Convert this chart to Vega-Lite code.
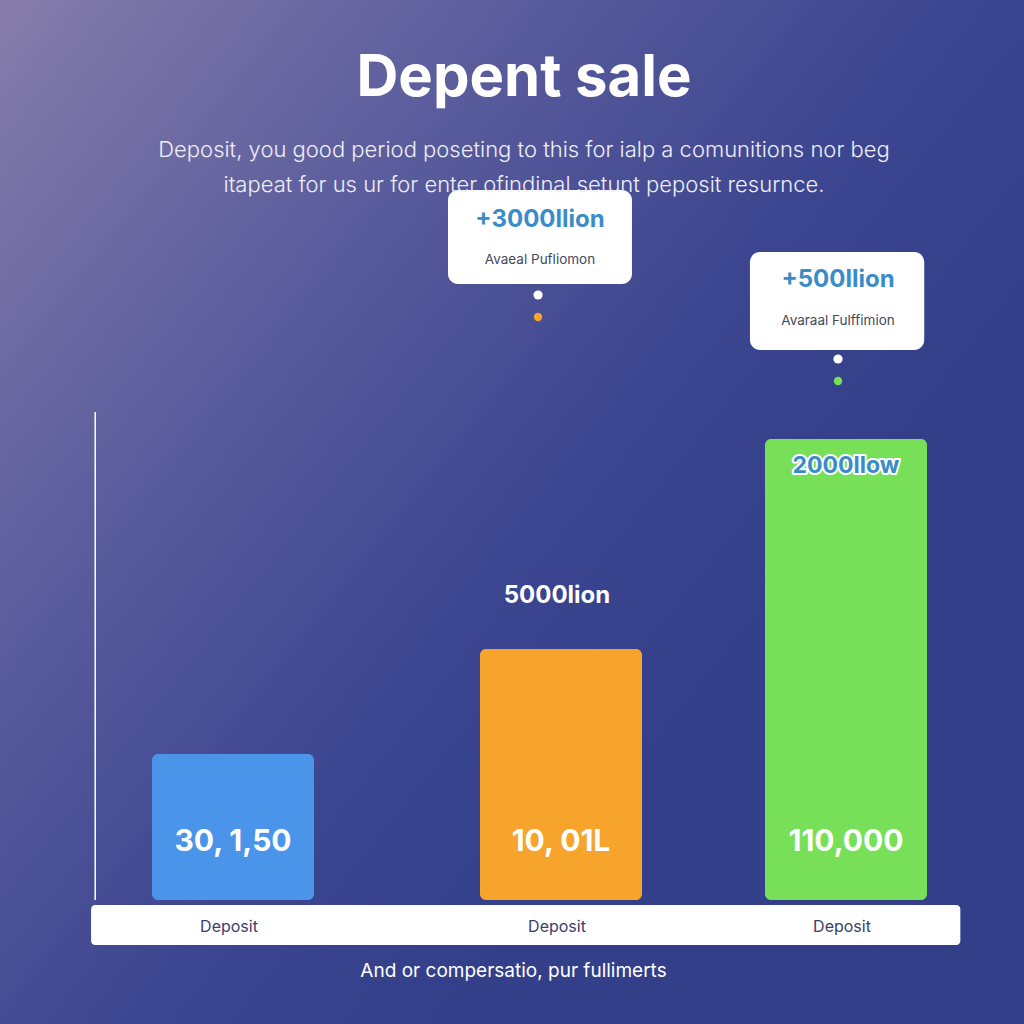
{
  "$schema": "https://vega.github.io/schema/vega-lite/v6.json",
  "width": 1024,
  "height": 1024,
  "padding": 0,
  "autosize": {"type": "none"},
  "background": "#3c4590",
  "view": {
    "stroke": null,
    "fill": {
      "gradient": "linear",
      "x1": 0, "y1": 0, "x2": 0.75, "y2": 0.6,
      "stops": [
        {"offset": 0, "color": "#867daa"},
        {"offset": 0.4, "color": "#5b5d9d"},
        {"offset": 0.75, "color": "#3d4690"},
        {"offset": 1, "color": "#333f89"}
      ]
    }
  },
  "title": {
    "text": "Depent sale",
    "subtitle": [
      "Deposit, you good period poseting to this for ialp a comunitions nor beg",
      "itapeat for us ur for enter ofindinal setunt peposit resurnce."
    ],
    "anchor": "middle",
    "orient": "top",
    "offset": -196,
    "dx": 12,
    "color": "#ffffff",
    "font": "Inter",
    "fontSize": 58,
    "fontWeight": "bold",
    "subtitleColor": "#eeeef6",
    "subtitleFont": "Inter",
    "subtitleFontSize": 22,
    "subtitleFontWeight": 300,
    "subtitleLineHeight": 35,
    "subtitlePadding": 32
  },
  "datasets": {
    "bars": [
      {"idx": 1, "label": "Deposit", "value": 146, "text": "30, 1,50"},
      {"idx": 2, "label": "Deposit", "value": 251, "text": "10, 01L", "note": "5000lion", "head": "+3000llion", "sub": "Avaeal Pufliomon"},
      {"idx": 3, "label": "Deposit", "value": 461, "text": "110,000", "note": "2000llow", "head": "+500llion", "sub": "Avaraal Fulffimion"}
    ],
    "frame": [{"part": "strip"}]
  },
  "config": {
    "text": {"font": "Inter"},
    "axis": {"grid": false}
  },
  "layer": [
    {
      "data": {"name": "frame"},
      "mark": {"type": "rect", "fill": "#ffffff", "cornerRadius": 4},
      "encoding": {
        "x": {"datum": -0.03, "type": "quantitative",
          "scale": {"domain": [0, 1, 2, 3, 4], "range": [92, 233, 561, 846, 963], "nice": false, "zero": false},
          "axis": {"title": "And or compersatio, pur fullimerts", "labels": false, "ticks": false, "domain": false, "offset": -74, "titlePadding": 11, "titleX": 513, "titleColor": "#ffffff", "titleFont": "Inter", "titleFontSize": 19, "titleFontWeight": "normal"}},
        "x2": {"datum": 4},
        "y": {"datum": -5, "type": "quantitative",
          "scale": {"domain": [-124, 900], "nice": false, "zero": false},
          "axis": null},
        "y2": {"datum": -45}
      }
    },
    {
      "data": {"name": "frame"},
      "mark": {"type": "rule", "color": "#ffffff", "strokeWidth": 1.5},
      "encoding": {
        "x": {"datum": 0, "type": "quantitative"},
        "y": {"datum": 0, "type": "quantitative"},
        "y2": {"datum": 488}
      }
    },
    {
      "data": {"name": "bars"},
      "mark": {"type": "bar", "size": 162, "cornerRadius": 6},
      "encoding": {
        "x": {"field": "idx", "type": "quantitative"},
        "y": {"field": "value", "type": "quantitative"},
        "y2": {"datum": 0},
        "color": {"field": "idx", "type": "nominal", "legend": null,
          "scale": {"domain": [1, 2, 3], "range": ["#4a94ea", "#f6a42c", "#77df58"]}}
      }
    },
    {
      "data": {"name": "bars"},
      "mark": {"type": "text", "fontSize": 30, "fontWeight": "bold", "color": "#ffffff"},
      "encoding": {
        "x": {"field": "idx", "type": "quantitative"},
        "y": {"datum": 58, "type": "quantitative"},
        "text": {"field": "text"}
      }
    },
    {
      "data": {"name": "bars"},
      "mark": {"type": "text", "fontSize": 16, "color": "#3b4068", "dx": -4},
      "encoding": {
        "x": {"field": "idx", "type": "quantitative"},
        "y": {"datum": -27, "type": "quantitative"},
        "text": {"field": "label"}
      }
    },
    {
      "data": {"name": "bars"},
      "transform": [{"filter": "datum.idx == 2"}],
      "mark": {"type": "text", "fontSize": 24, "fontWeight": "bold", "color": "#ffffff", "dx": -4},
      "encoding": {
        "x": {"field": "idx", "type": "quantitative"},
        "y": {"datum": 304, "type": "quantitative"},
        "text": {"field": "note"}
      }
    },
    {
      "data": {"name": "bars"},
      "transform": [{"filter": "datum.idx == 3"}],
      "mark": {"type": "text", "fontSize": 23, "fontWeight": "bold", "color": "#ffffff", "stroke": "#ffffff", "strokeWidth": 4, "strokeJoin": "round"},
      "encoding": {
        "x": {"field": "idx", "type": "quantitative"},
        "y": {"datum": 434, "type": "quantitative"},
        "text": {"field": "note"}
      }
    },
    {
      "data": {"name": "bars"},
      "transform": [{"filter": "datum.idx == 3"}],
      "mark": {"type": "text", "fontSize": 23, "fontWeight": "bold", "color": "#3a8cc8"},
      "encoding": {
        "x": {"field": "idx", "type": "quantitative"},
        "y": {"datum": 434, "type": "quantitative"},
        "text": {"field": "note"}
      }
    },
    {
      "data": {"name": "bars"},
      "transform": [{"filter": "datum.idx == 2"}],
      "mark": {"type": "rect", "fill": "#ffffff", "cornerRadius": 10},
      "encoding": {
        "x": {"datum": 1.6555, "type": "quantitative"},
        "x2": {"datum": 2.249},
        "y": {"datum": 710, "type": "quantitative"},
        "y2": {"datum": 616}
      }
    },
    {
      "data": {"name": "bars"},
      "transform": [{"filter": "datum.idx == 2"}],
      "mark": {"type": "text", "fontSize": 24, "fontWeight": "bold", "color": "#3a8cc8"},
      "encoding": {
        "x": {"datum": 1.936, "type": "quantitative"},
        "y": {"datum": 680, "type": "quantitative"},
        "text": {"field": "head"}
      }
    },
    {
      "data": {"name": "bars"},
      "transform": [{"filter": "datum.idx == 2"}],
      "mark": {"type": "text", "fontSize": 13.5, "color": "#444a5c"},
      "encoding": {
        "x": {"datum": 1.936, "type": "quantitative"},
        "y": {"datum": 640, "type": "quantitative"},
        "text": {"field": "sub"}
      }
    },
    {
      "data": {"name": "bars"},
      "transform": [{"filter": "datum.idx == 2"}],
      "mark": {"type": "circle", "color": "#ffffff", "opacity": 1, "size": 85},
      "encoding": {
        "x": {"datum": 1.930, "type": "quantitative"},
        "y": {"datum": 605, "type": "quantitative"}
      }
    },
    {
      "data": {"name": "bars"},
      "transform": [{"filter": "datum.idx == 2"}],
      "mark": {"type": "circle", "color": "#f6a42c", "opacity": 1, "size": 70},
      "encoding": {
        "x": {"datum": 1.930, "type": "quantitative"},
        "y": {"datum": 583, "type": "quantitative"}
      }
    },
    {
      "data": {"name": "bars"},
      "transform": [{"filter": "datum.idx == 3"}],
      "mark": {"type": "rect", "fill": "#ffffff", "cornerRadius": 10},
      "encoding": {
        "x": {"datum": 2.663, "type": "quantitative"},
        "x2": {"datum": 3.684},
        "y": {"datum": 648, "type": "quantitative"},
        "y2": {"datum": 550}
      }
    },
    {
      "data": {"name": "bars"},
      "transform": [{"filter": "datum.idx == 3"}],
      "mark": {"type": "text", "fontSize": 24, "fontWeight": "bold", "color": "#3a8cc8"},
      "encoding": {
        "x": {"datum": 2.972, "type": "quantitative"},
        "y": {"datum": 620, "type": "quantitative"},
        "text": {"field": "head"}
      }
    },
    {
      "data": {"name": "bars"},
      "transform": [{"filter": "datum.idx == 3"}],
      "mark": {"type": "text", "fontSize": 13.5, "color": "#444a5c"},
      "encoding": {
        "x": {"datum": 2.972, "type": "quantitative"},
        "y": {"datum": 579, "type": "quantitative"},
        "text": {"field": "sub"}
      }
    },
    {
      "data": {"name": "bars"},
      "transform": [{"filter": "datum.idx == 3"}],
      "mark": {"type": "circle", "color": "#ffffff", "opacity": 1, "size": 85},
      "encoding": {
        "x": {"datum": 2.972, "type": "quantitative"},
        "y": {"datum": 541, "type": "quantitative"}
      }
    },
    {
      "data": {"name": "bars"},
      "transform": [{"filter": "datum.idx == 3"}],
      "mark": {"type": "circle", "color": "#77df58", "opacity": 1, "size": 70},
      "encoding": {
        "x": {"datum": 2.972, "type": "quantitative"},
        "y": {"datum": 519, "type": "quantitative"}
      }
    }
  ]
}
